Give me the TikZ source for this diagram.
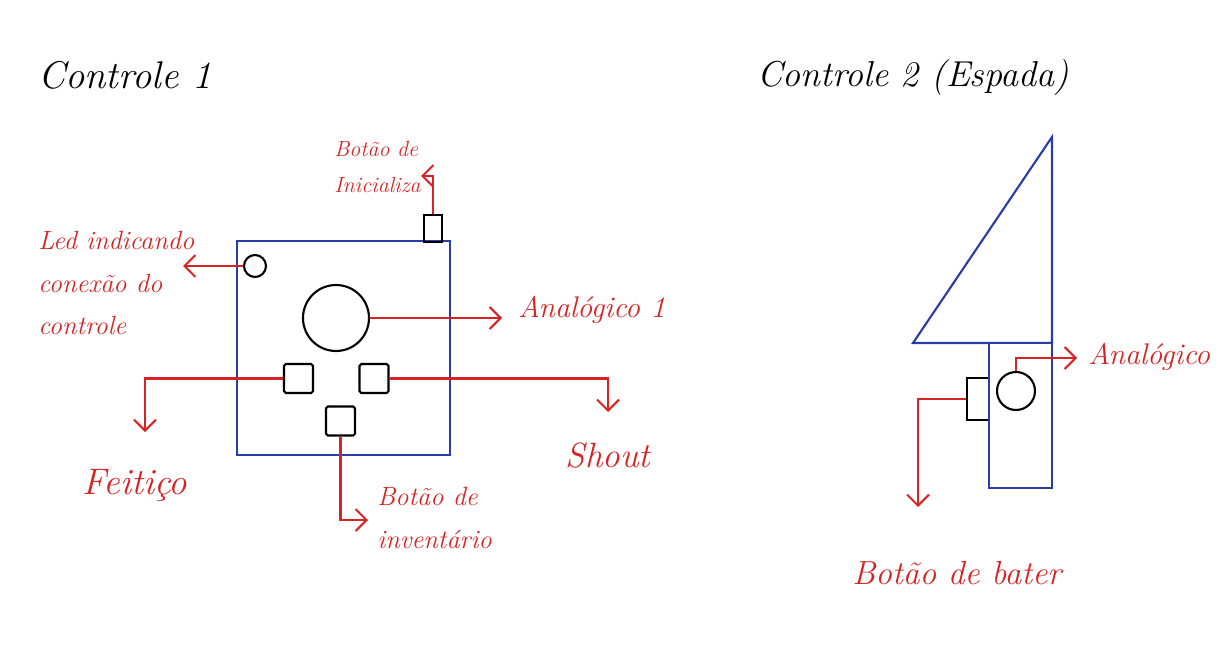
\documentclass[tikz,border=0pt]{standalone}
\usetikzlibrary{arrows.meta}
\definecolor{penblue}{RGB}{40,60,170}
\definecolor{penred}{RGB}{215,35,35}
\tikzset{
  part/.style = {draw = penblue, line width = 1.2pt, inner sep = 0pt},
  knob/.style = {draw = black, line width = 1.2pt, inner sep = 0pt},
  lead/.style = {draw = penred, line width = 1.2pt, -{Straight Barb[length = 2.2mm, width = 4.4mm]}},
  note/.style = {text = penred, font = \itshape\fontsize{15}{24}\selectfont, align = left, inner sep = 0pt},
  heading/.style = {font = \itshape\fontsize{22}{26}\selectfont, inner sep = 0pt}
}

\begin{document}
\begin{tikzpicture}[x = 0.02cm, y = -0.02cm]
\useasboundingbox (0,0) rectangle (1227,652);
% Controle 1
\node[heading, anchor = west] (t1) at (38,75) {Controle 1};
\node[part, rectangle, minimum width = 4.26cm, minimum height = 4.28cm] (pad) at (343.5,348) {};
\node[knob, rectangle, minimum width = 0.36cm, minimum height = 0.54cm] (start) at (433,228.5) {};
\node[knob, circle, minimum size = 0.44cm] (led) at (255,266) {};
\node[knob, circle, minimum size = 1.32cm] (stick) at (336,318) {};
\node[knob, rectangle, rounded corners = 1pt, minimum size = 0.58cm] (sqL) at (298.5,378.5) {};
\node[knob, rectangle, rounded corners = 1pt, minimum size = 0.58cm] (sqR) at (374,378.5) {};
\node[knob, rectangle, rounded corners = 1pt, minimum size = 0.58cm] (sqB) at (340.5,421) {};

\node[note, anchor = west, font = \itshape\fontsize{12.5}{20}\selectfont] (startTxt) at (334,167) {Botão de\\Inicializa};
\node[note, anchor = west] (ledTxt) at (38,283) {Led indicando\\conexão do\\controle};
\node[note, anchor = west, font = \itshape\fontsize{17}{20}\selectfont] (stickTxt) at (518,310) {Analógico 1};
\node[note, font = \itshape\fontsize{21}{24}\selectfont] (spellTxt) at (135,485) {Feitiço};
\node[note, font = \itshape\fontsize{20}{24}\selectfont] (shoutTxt) at (608,455) {Shout};
\node[note, anchor = west] (invTxt) at (377,518) {Botão de\\inventário};

\coordinate (startTip) at (421,176);
\coordinate (ledTip) at (183,266);
\coordinate (stickTip) at (502,318);
\coordinate (spellTip) at (145,432);
\coordinate (shoutTip) at (608,412);
\coordinate (invTip) at (368,520);
\draw[lead] (start.north) |- (startTip);
\draw[lead] (led.west) -- (ledTip);
\draw[lead] (stick.east) -- (stickTip);
\draw[lead] (sqL.west) -| (spellTip);
\draw[lead] (sqR.east) -| (shoutTip);
\draw[lead] (sqB.south) |- (invTip);

% Controle 2 (Espada)
\node[heading, anchor = west, font = \itshape\fontsize{20.5}{24}\selectfont] (t2) at (757,78) {Controle 2 (Espada)};
\draw[part] (913,343) -- (1052,137) -- (1052,343) -- cycle;
\node[knob, rectangle, minimum width = 0.44cm, minimum height = 0.84cm] (side) at (978,399) {};
\node[part, rectangle, fill = white, minimum width = 1.26cm, minimum height = 2.9cm] (grip) at (1020.5,415.5) {};
\node[knob, circle, minimum size = 0.76cm] (stickB) at (1016,391) {};

\node[note, anchor = west, font = \itshape\fontsize{17}{20}\selectfont] (aimTxt) at (1088,357) {Analógico};
\node[note, anchor = west, font = \itshape\fontsize{19}{22}\selectfont] (hitTxt) at (852,573) {Botão de bater};

\coordinate (aimTip) at (1077,358);
\coordinate (hitTip) at (918,507);
\draw[lead] (stickB.north) |- (aimTip);
\draw[lead] (side.west) -| (hitTip);
\end{tikzpicture}
\end{document}
